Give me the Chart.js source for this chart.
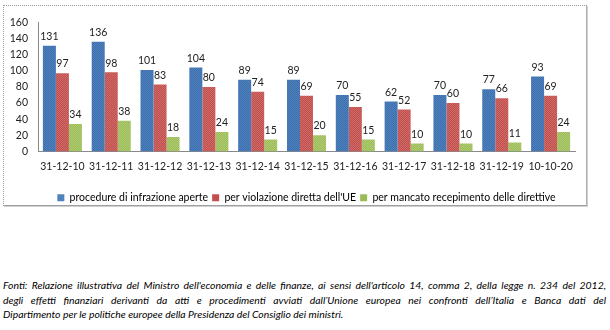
<!DOCTYPE html>
<html lang="it">
<head>
  <meta charset="UTF-8" />
  <title>Procedure di infrazione</title>
  <script src="https://cdn.jsdelivr.net/npm/chart.js"></script>
  <style>
    body {
      margin: 0;
      background: #fff;
      width: 610px;
      height: 330px;
      position: relative;
      font-family: Lato, "Open Sans", sans-serif;
    }

    #box {
      position: absolute;
      left: 3px;
      top: 5px;
      width: 582px;
      height: 199px;
      border: 1px dotted #9a9a9a;
      border-bottom: 1px solid #a0a0a0;
      border-right: 1px solid #b0b0b0;
      box-shadow: 1px 1px 0 #d0d0d0;
    }

    #box canvas {
      position: absolute;
      left: 0;
      top: 0;
    }

    #fonti {
      position: absolute;
      left: 3px;
      top: 278px;
      width: 603px;
      font-size: 10.4px;
      font-style: italic;
      line-height: 14.5px;
      color: #000;
    }

    #fonti div {
      text-align: justify;
      text-align-last: justify;
      white-space: nowrap;
    }

    #fonti div.last {
      text-align-last: left;
    }
  </style>
</head>
<body>
  <div id="box">
    <canvas id="infrazioni" width="582" height="207"></canvas>
  </div>

  <div id="fonti">
    <div>Fonti: Relazione illustrativa del Ministro dell'economia e delle finanze, ai sensi dell'articolo 14, comma 2, della legge n. 234 del 2012,</div>
    <div>degli effetti finanziari derivanti da atti e procedimenti avviati dall’Unione europea nei confronti dell’Italia e Banca dati del</div>
    <div class="last">Dipartimento per le politiche europee della Presidenza del Consiglio dei ministri.</div>
  </div>

  <script>
    const dates = ['31-12-10', '31-12-11', '31-12-12', '31-12-13', '31-12-14', '31-12-15',
                   '31-12-16', '31-12-17', '31-12-18', '31-12-19', '10-10-20'];
    const aperte = [131, 136, 101, 104, 89, 89, 70, 62, 70, 77, 93];
    const violazione = [97, 98, 83, 80, 74, 69, 55, 52, 60, 66, 69];
    const recepimento = [34, 38, 18, 24, 15, 20, 15, 10, 10, 11, 24];
    const yTicks = [0, 20, 40, 60, 80, 100, 120, 140, 160];

    const FONT = 'Lato, "Open Sans", sans-serif';

    // small checker texture, like the old office fill
    function checker(a, b) {
      const c = document.createElement('canvas');
      c.width = 2; c.height = 2;
      const g = c.getContext('2d');
      g.fillStyle = a; g.fillRect(0, 0, 2, 2);
      g.fillStyle = b; g.fillRect(0, 0, 1, 1); g.fillRect(1, 1, 1, 1);
      return g.createPattern(c, 'repeat');
    }

    const ctx = document.getElementById('infrazioni').getContext('2d');

    const blue = checker('#4f81bd', '#3d6fae');
    const red = checker('#c0504d', '#d06a66');
    const green = checker('#9bbb59', '#b0cc72');

    // value labels above each bar
    const barValues = {
      id: 'barValues',
      afterDatasetsDraw(chart) {
        const c = chart.ctx;
        c.save();
        c.font = '10.5px ' + FONT;
        c.fillStyle = '#222';
        c.textAlign = 'center';
        c.textBaseline = 'bottom';
        chart.data.datasets.forEach((ds, i) => {
          chart.getDatasetMeta(i).data.forEach((bar, j) => {
            c.fillText(ds.data[j], bar.x, bar.y - 4);
          });
        });
        c.restore();
      }
    };

    new Chart(ctx, {
      type: 'bar',
      data: {
        labels: dates,
        datasets: [
          { label: 'procedure di infrazione aperte', data: aperte, backgroundColor: blue, legendColor: '#4f81bd' },
          { label: "per violazione diretta dell'UE", data: violazione, backgroundColor: red, legendColor: '#c0504d' },
          { label: 'per mancato recepimento delle direttive', data: recepimento, backgroundColor: green, legendColor: '#9bbb59' }
        ]
      },
      options: {
        responsive: false,
        animation: false,
        layout: { padding: { top: 13, right: 11, left: 0, bottom: 0 } },
        datasets: {
          bar: { categoryPercentage: 0.8, barPercentage: 1 }
        },
        scales: {
          x: {
            grid: { display: false, drawTicks: false },
            border: { display: true, color: '#8a8a8a', dash: [1, 1] },
            ticks: { color: '#222', font: { size: 10.5, family: FONT }, padding: 9, maxRotation: 0, autoSkip: false },
            afterFit: s => { s.height = 37; }
          },
          y: {
            min: 0,
            max: 160,
            afterBuildTicks: s => { s.ticks = yTicks.map(v => ({ value: v })); },
            grid: { display: false, drawTicks: false },
            border: { display: true, color: '#8a8a8a', dash: [1, 1] },
            ticks: { color: '#222', font: { size: 10.5, family: FONT }, padding: 10, autoSkip: false },
            afterFit: s => { s.width = 34; }
          }
        },
        plugins: {
          legend: {
            position: 'bottom',
            fullSize: false,
            labels: {
              boxWidth: 7,
              boxHeight: 7,
              padding: 4,
              color: '#222',
              font: { size: 10.5, family: FONT },
              generateLabels: chart => chart.data.datasets.map((ds, i) => ({
                text: ds.label,
                fillStyle: ds.legendColor,
                strokeStyle: ds.legendColor,
                lineWidth: 0,
                datasetIndex: i
              }))
            }
          },
          tooltip: { enabled: false }
        }
      },
      plugins: [barValues]
    });
  </script>
</body>
</html>
